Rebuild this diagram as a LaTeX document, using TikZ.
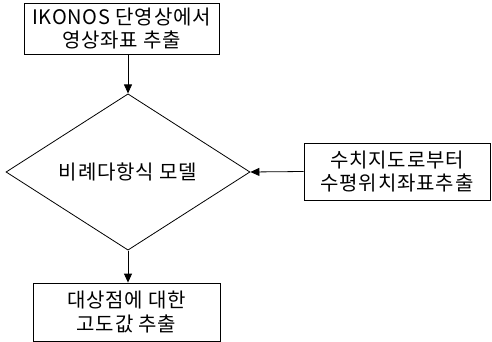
\documentclass[tikz,border=0pt]{standalone}
\usepackage{fontspec}
\newfontfamily\krfont[LetterSpace=4]{Noto Sans CJK KR}
\usetikzlibrary{shapes.geometric,arrows.meta}
\begin{document}
\begin{tikzpicture}[x=1pt,y=1pt,
		stepbox/.style={draw,rectangle,line width=0.8pt,inner sep=0pt,align=center,
			font=\krfont\fontsize{20}{23.5}\selectfont},
		decision/.style={draw,diamond,line width=0.8pt,inner sep=0pt,
			minimum width=244pt,minimum height=107pt,font=\krfont\fontsize{20}{23.5}\selectfont},
		flow/.style={-{Triangle[length=9pt,width=8pt]},line width=0.8pt}]
		\useasboundingbox (0,0) rectangle (492,-342);
		
		\node[stepbox,minimum width=195pt,minimum height=51pt] (image) at (121.5,-28.5) {IKONOS 단영상에서\\영상좌표 추출};
		\node[decision] (model) at (128,-172) {비례다항식 모델};
		\node[stepbox,minimum width=186pt,minimum height=57pt] (map) at (397,-171.5) {수치지도로부터\\수평위치좌표추출};
		\node[stepbox,minimum width=187pt,minimum height=58pt] (height) at (126.5,-312) {대상점에 대한\\고도값 추출};
		
		\draw[flow] (model.north |- image.south) to (model.north);
		\draw[flow] (map.west) to (model.east);
		\draw[flow] (model.south) to (model.south |- height.north);
\end{tikzpicture}
\end{document}
